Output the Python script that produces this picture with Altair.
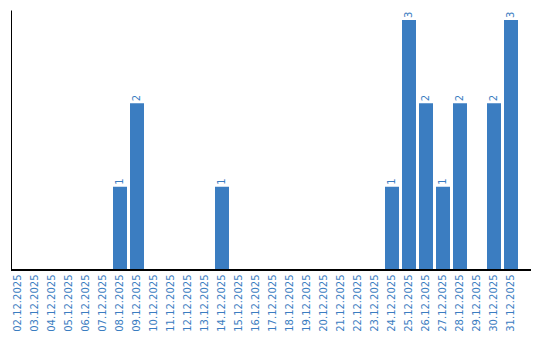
import altair as alt
import pandas as pd

dates = [f"{d:02d}.12.2025" for d in range(2, 32)]
counts = [0, 0, 0, 0, 0, 0, 1, 2, 0, 0, 0, 0, 1, 0, 0, 0, 0, 0, 0, 0, 0, 0, 1, 3, 2, 1, 2, 0, 2, 3]

df = pd.DataFrame({"date": dates, "count": counts})
df["label"] = df["count"].apply(lambda v: str(v) if v > 0 else "")

BLUE = "#3b7dc1"
W, H = 520, 260

x = alt.X("date:N", sort=dates,
          scale=alt.Scale(range=[0, 507], paddingInner=3 / 17, paddingOuter=0),
          axis=alt.Axis(title=None, labelAngle=-90, ticks=False, domain=False,
                        labelColor=BLUE, labelFont="DejaVu Sans", labelFontSize=10,
                        labelPadding=4))
y = alt.Y("count:Q", scale=alt.Scale(domain=[0, 3.12], nice=False),
          axis=alt.Axis(title=None, labels=False, ticks=False, grid=False,
                        domainColor="black", domainWidth=1))

base = alt.Chart(df)
bars = base.mark_bar(color=BLUE).encode(x=x, y=y)
text = base.mark_text(angle=270, align="left", baseline="middle", dx=2,
                      color=BLUE, font="DejaVu Sans", fontSize=10).encode(
    x=alt.X("date:N", sort=dates), y="count:Q", text="label:N")
axis_line = base.mark_rule(color="black", strokeWidth=1).encode(
    x=alt.value(0), x2=alt.value(W), y=alt.value(H))

chart = alt.layer(bars, text, axis_line).properties(
    width=W, height=H,
    autosize=alt.AutoSizeParams(type="none"),
    padding={"left": 11, "top": 10, "right": 9, "bottom": 70},
).configure_view(stroke=None)

chart.save("out.html", embed_options={"renderer": "svg", "actions": False})
